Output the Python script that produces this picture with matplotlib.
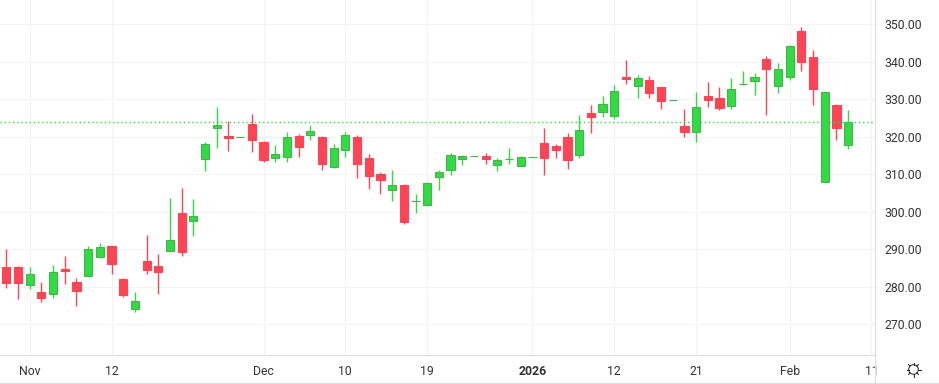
import matplotlib
matplotlib.use('Agg')
import matplotlib.pyplot as plt
from matplotlib.lines import Line2D
from matplotlib.patches import Circle

# daily candles
opens = [285.2, 285.2, 280.6, 278.6, 278.2, 284.7, 281.3, 283.0, 288.0, 290.9, 282.1, 274.0, 287.0, 285.5, 289.6, 299.7, 297.6,
         314.2, 322.4, 320.2, 319.9, 323.4, 318.6, 314.4, 314.7, 320.2, 320.6, 320.0, 312.0, 316.6, 320.0, 314.3, 310.1, 305.9, 307.1, 302.8,
         301.9, 309.4, 311.2, 314.2, 314.8, 314.9, 312.6, 314.0, 312.3, 314.5, 318.3, 317.5, 319.9, 315.2, 326.3, 326.7, 325.6,
         336.0, 333.6, 335.1, 333.2, 329.7, 322.8, 321.2, 331.0, 330.3, 328.3, 334.2, 335.0, 340.7, 333.5, 336.0, 348.1, 341.2, 308.0, 328.4, 317.9]
highs = [290.1, 285.5, 285.2, 281.3, 285.7, 288.2, 282.3, 290.9, 291.7, 290.9, 282.4, 278.6, 293.8, 288.7, 303.7, 306.4, 303.4,
         318.5, 327.9, 324.2, 319.9, 326.1, 318.9, 317.8, 321.3, 320.7, 323.1, 320.2, 318.1, 321.3, 320.5, 315.4, 310.6, 311.1, 307.4, 304.7,
         308.0, 311.1, 315.7, 315.2, 314.8, 315.7, 314.3, 317.0, 314.9, 314.5, 322.3, 318.1, 321.0, 325.8, 328.5, 330.9, 333.8,
         340.5, 336.5, 336.2, 333.3, 329.7, 327.4, 332.0, 334.6, 333.3, 335.7, 337.5, 337.0, 341.5, 339.7, 344.5, 349.2, 343.1, 331.9, 328.7, 327.1]
lows = [279.8, 276.8, 279.5, 276.0, 277.1, 280.8, 275.0, 282.7, 287.7, 283.5, 277.4, 273.4, 283.5, 278.2, 289.6, 288.2, 293.6,
        311.0, 317.1, 316.3, 319.9, 316.0, 313.3, 313.3, 313.3, 314.7, 319.1, 311.2, 311.8, 314.7, 309.1, 306.2, 304.8, 303.0, 296.8, 299.8,
        301.6, 305.9, 309.9, 312.6, 314.8, 312.7, 311.0, 312.7, 312.2, 314.5, 309.8, 314.3, 311.4, 314.3, 321.0, 325.3, 324.7,
        334.2, 330.4, 330.4, 327.5, 329.7, 320.0, 318.7, 328.0, 327.2, 327.5, 333.8, 331.2, 325.9, 331.8, 335.2, 337.6, 328.6, 308.0, 319.2, 316.8]
closes = [281.1, 281.1, 283.3, 277.1, 283.9, 284.3, 279.0, 290.0, 290.5, 286.2, 277.9, 276.1, 284.6, 284.0, 292.4, 289.4, 298.8,
          318.0, 323.1, 319.8, 319.9, 319.2, 313.9, 315.3, 320.0, 317.4, 321.5, 312.8, 316.9, 320.4, 312.8, 309.6, 308.6, 307.1, 297.4, 302.8,
          307.6, 310.5, 315.1, 314.8, 314.8, 314.2, 313.7, 314.0, 314.5, 314.5, 314.4, 316.5, 313.9, 321.7, 325.4, 328.7, 332.2,
          335.4, 335.6, 331.8, 329.6, 329.7, 321.4, 327.9, 329.9, 327.8, 332.7, 334.2, 335.9, 338.2, 338.0, 344.1, 340.0, 332.8, 331.9, 322.4, 323.9]
last_price = 323.9

y_ticks = [270, 280, 290, 300, 310, 320, 330, 340, 350]
x_ticks = [2, 9, 22, 29, 36, 45, 52, 59, 67, 74]
x_labels = ['Nov', '12', 'Dec', '10', '19', '2026', '12', '21', 'Feb', '11']

UP = '#2FDC42'
UP_EDGE = '#4CAF50'
DOWN = '#FF4455'
GRID = '#F3F3F3'
BORDER = '#DFDFDF'
TEXT = '#333333'

W, H = 939, 384
plt.rcParams['font.family'] = ['Roboto', 'DejaVu Sans']
fig = plt.figure(figsize=(W / 100, H / 100), dpi=100)
ax = fig.add_axes([0, 1 - 355 / H, 875 / W, 355 / H])
ax.set_xlim(-0.539, 74.3)
ax.set_ylim(261.8, 356.5)
ax.set_axisbelow(True)
ax.grid(True, color=GRID, linewidth=0.8)

for i in range(len(opens)):
    up = closes[i] >= opens[i]
    ax.vlines(i, lows[i], highs[i], color=UP if up else DOWN, linewidth=1.0, zorder=2)
    ax.bar(i, closes[i] - opens[i], bottom=opens[i], width=0.7, color=UP if up else DOWN,
           edgecolor=UP_EDGE if up else DOWN, linewidth=0.8, zorder=3)

ax.axhline(last_price, color=UP, linestyle=(0, (1, 2)), linewidth=1, zorder=4)

for s in ['top', 'left']:
    ax.spines[s].set_visible(False)
for s in ['right', 'bottom']:
    ax.spines[s].set_color(BORDER)
    ax.spines[s].set_linewidth(0.9)

ax.yaxis.tick_right()
ax.set_yticks(y_ticks)
ax.set_yticklabels(['%.2f' % v for v in y_ticks], fontsize=8.8, color=TEXT)
ax.set_xticks(x_ticks)
ax.set_xticklabels(x_labels, fontsize=8.8, color=TEXT)
ax.get_xticklabels()[5].set_fontweight('bold')
ax.tick_params(length=0, axis='x', pad=7)
ax.tick_params(length=0, axis='y', pad=7)

# bottom border and the settings button
fig.add_artist(Line2D([0, 1], [1 - 383 / H] * 2, color=BORDER, linewidth=0.9))
fig.add_artist(Line2D([875 / W] * 2, [1 - 383 / H, 1 - 355 / H], color=BORDER, linewidth=0.9))
cx, cy = 913.5, 369.5
sun = fig.add_axes([(cx - 10) / W, 1 - (cy + 10) / H, 20 / W, 20 / H])
sun.set_xlim(-10, 10)
sun.set_ylim(-10, 10)
sun.axis('off')
sun.add_patch(Circle((0, 0), 4.8, fill=False, edgecolor='#222222', linewidth=0.7))
for dx, dy in [(1, 0), (-1, 0), (0, 1), (0, -1)]:
    sun.plot([dx * 4.8, dx * 7], [dy * 4.8, dy * 7], color='#222222', linewidth=0.7)
for dx, dy in [(1, 1), (-1, 1), (1, -1), (-1, -1)]:
    sun.plot([dx * 3.4, dx * 5], [dy * 3.4, dy * 5], color='#222222', linewidth=0.7)

fig.savefig('out.png', dpi=100)
